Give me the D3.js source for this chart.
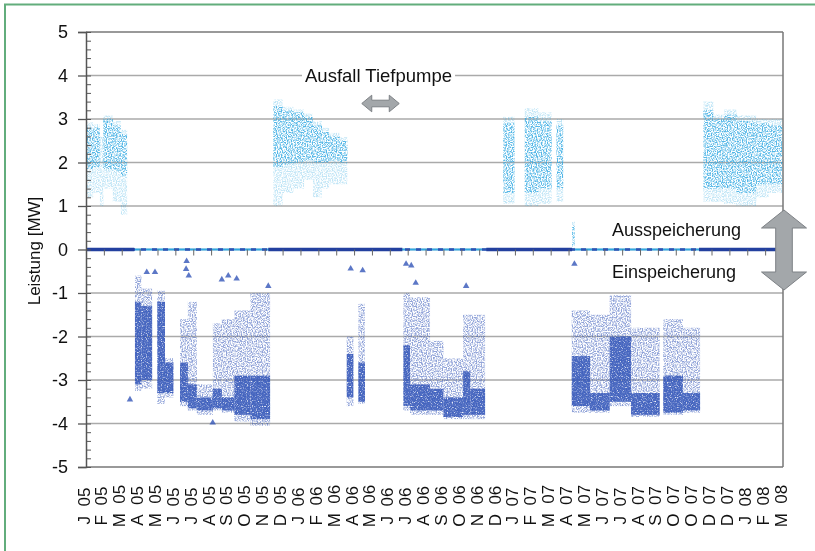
<!DOCTYPE html>
<html>
<head>
<meta charset="utf-8">
<script src="https://cdn.jsdelivr.net/npm/d3@7"></script>
<style>
  body { margin: 0; background: #fff; }
  svg text { font-family: "Liberation Sans", Arial, sans-serif; fill: #111; }
</style>
</head>
<body>
<div id="chart"></div>
<script>
// x tick labels, one per axis step (Excel date axis, so some letters repeat)
var tickLabels = ["J 05","F 05","M 05","A 05","M 05","J 05","J 05","A 05","S 05","O 05","N 05","D 05",
                  "J 06","F 06","M 06","A 06","M 06","J 06","J 06","A 06","S 06","O 06","N 06","D 06",
                  "J 07","F 07","M 07","A 07","M 07","J 07","J 07","A 07","S 07","O 07","O 07","D 07","D 07",
                  "J 08","F 08","M 08"];
var yTicks = [-5, -4, -3, -2, -1, 0, 1, 2, 3, 4, 5];

// Ausspeicherung (discharge, > 0): [from, to, lowest, core low, core high, highest], time in axis steps
var ausData = [
  [0.00, 0.40, 1.20, 1.85, 2.80, 2.92],
  [0.40, 0.78, 1.30, 1.90, 2.80, 2.88],
  [0.78, 0.97, 1.00, 1.60, 1.60, 2.60],
  [0.97, 1.50, 1.40, 1.85, 3.00, 3.08],
  [1.50, 1.95, 1.10, 1.80, 2.85, 2.95],
  [1.95, 2.30, 0.80, 1.70, 2.65, 2.75],
  [10.48, 11.00, 1.00, 1.90, 3.30, 3.45],
  [11.00, 11.60, 1.30, 1.95, 3.20, 3.28],
  [11.60, 12.20, 1.40, 2.00, 3.15, 3.22],
  [12.20, 12.70, 1.60, 2.05, 3.05, 3.12],
  [12.70, 13.20, 1.20, 2.00, 2.85, 2.95],
  [13.20, 13.60, 1.40, 2.00, 2.70, 2.80],
  [13.60, 14.20, 1.50, 2.05, 2.60, 2.68],
  [14.20, 14.62, 1.50, 2.00, 2.50, 2.58],
  [23.35, 23.98, 1.05, 1.30, 2.90, 3.05],
  [24.55, 25.30, 1.00, 1.30, 3.05, 3.25],
  [25.30, 26.05, 1.05, 1.40, 2.95, 3.15],
  [26.33, 26.70, 1.10, 1.40, 2.85, 3.00],
  [27.20, 27.35, 0.05, 0.10, 0.55, 0.65],
  [34.55, 35.10, 1.10, 1.40, 3.20, 3.40],
  [35.10, 35.70, 1.10, 1.40, 3.00, 3.10],
  [35.70, 36.40, 1.05, 1.40, 3.10, 3.22],
  [36.40, 37.50, 1.00, 1.30, 2.95, 3.08],
  [37.50, 38.20, 1.20, 1.50, 2.90, 3.00],
  [38.20, 38.95, 1.30, 1.50, 2.85, 3.00]
];

// Einspeicherung (charge, < 0): [from, to, lowest, core low, core high, highest]
var einData = [
  [2.74, 3.10, -3.25, -3.10, -1.20, -0.60],
  [3.10, 3.70, -3.20, -3.00, -1.30, -0.90],
  [3.99, 4.42, -3.55, -3.30, -1.20, -0.95],
  [4.42, 4.89, -3.40, -3.30, -2.60, -2.50],
  [5.26, 5.70, -3.60, -3.50, -2.60, -1.60],
  [5.70, 6.20, -3.70, -3.65, -3.10, -1.20],
  [6.20, 7.10, -3.80, -3.70, -3.40, -3.10],
  [7.10, 7.60, -3.70, -3.65, -3.20, -1.70],
  [7.60, 8.30, -3.75, -3.70, -3.40, -1.60],
  [8.30, 9.20, -3.95, -3.80, -2.90, -1.40],
  [9.20, 10.30, -4.05, -3.90, -2.90, -1.00],
  [14.59, 14.96, -3.60, -3.40, -2.40, -2.00],
  [15.24, 15.61, -3.55, -3.50, -2.60, -1.25],
  [17.76, 18.13, -3.70, -3.60, -2.20, -1.00],
  [18.13, 19.25, -3.80, -3.70, -3.10, -1.10],
  [19.25, 20.00, -3.80, -3.70, -3.20, -2.10],
  [20.00, 21.10, -3.90, -3.85, -3.40, -2.50],
  [21.10, 21.50, -3.90, -3.80, -2.80, -1.50],
  [21.50, 22.33, -3.90, -3.80, -3.20, -1.50],
  [27.18, 28.20, -3.75, -3.60, -2.45, -1.40],
  [28.20, 29.30, -3.75, -3.70, -3.30, -1.50],
  [29.30, 30.50, -3.60, -3.50, -2.00, -1.05],
  [30.50, 32.10, -3.85, -3.80, -3.30, -1.80],
  [32.30, 33.40, -3.80, -3.75, -2.90, -1.60],
  [33.40, 34.36, -3.75, -3.70, -3.30, -1.80]
];

// single charge points that stand apart: [time, MW]
var einSingles = [[2.46,-3.45],[3.40,-0.52],[3.86,-0.52],[5.63,-0.27],[5.60,-0.45],[5.75,-0.60],
                  [7.09,-3.98],[7.60,-0.69],[7.96,-0.60],[8.43,-0.67],[10.20,-0.84],[14.81,-0.44],
                  [15.48,-0.48],[17.91,-0.33],[18.20,-0.37],[18.45,-0.77],[21.27,-0.84],[27.33,-0.33]];

// stretches where the plant stands still and both series sit on 0
var idleSpans = [[0, 2.7], [10.2, 17.7], [22.4, 27.2], [34.3, 39]];

var width = 815, height = 551;
var svg = d3.select("#chart").append("svg")
    .attr("width", width).attr("height", height);

// grainy fill so the clouds read like scattered points
var defs = svg.append("defs");
function grain(id, seed, k, off) {
  var f = defs.append("filter").attr("id", id)
      .attr("x", 0).attr("y", 0).attr("width", 1).attr("height", 1);
  f.append("feTurbulence").attr("type", "fractalNoise").attr("baseFrequency", 0.8)
      .attr("numOctaves", 1).attr("seed", seed).attr("result", "n");
  f.append("feColorMatrix").attr("in", "n").attr("type", "matrix")
      .attr("values", "0 0 0 0 0  0 0 0 0 0  0 0 0 0 0  " + k + " 0 0 0 " + off).attr("result", "m");
  f.append("feComposite").attr("in", "SourceGraphic").attr("in2", "m").attr("operator", "in");
}
grain("speckle", 4, 4, -1.6);
grain("dense", 7, 4, -0.9);

// green frame
svg.append("path").attr("d", "M5,551V4.5H815")
    .attr("fill", "none").attr("stroke", "#62ad7c").attr("stroke-width", 2);

var x = d3.scaleLinear().domain([0, 39]).range([86, 783]);
var y = d3.scaleLinear().domain([-5, 5]).range([467, 32]);

// grid
svg.append("g").selectAll("line").data(yTicks).enter().append("line")
    .attr("x1", x(0)).attr("x2", x(39))
    .attr("y1", function(d) { return y(d); }).attr("y2", function(d) { return y(d); })
    .attr("stroke", function(d) { return Math.abs(d) == 5 ? "#777" : "#aaa"; })
    .attr("stroke-width", 1.5);
svg.append("line").attr("x1", x(39)).attr("x2", x(39)).attr("y1", y(5)).attr("y2", y(-5))
    .attr("stroke", "#777").attr("stroke-width", 1.5);

// discharge clouds
var aus = svg.append("g").attr("filter", "url(#speckle)");
aus.selectAll("rect.o").data(ausData).enter().append("rect")
    .attr("x", function(d) { return x(d[0]); })
    .attr("width", function(d) { return x(d[1]) - x(d[0]); })
    .attr("y", function(d) { return y(d[5]); })
    .attr("height", function(d) { return y(d[2]) - y(d[5]); })
    .attr("fill", "#2fa8e2").attr("opacity", 0.3);
aus.selectAll("rect.c").data(ausData).enter().append("rect")
    .attr("x", function(d) { return x(d[0]); })
    .attr("width", function(d) { return x(d[1]) - x(d[0]); })
    .attr("y", function(d) { return y(d[4]); })
    .attr("height", function(d) { return y(d[3]) - y(d[4]); })
    .attr("fill", "#2fa8e2").attr("opacity", 0.75);

// charge clouds
var ein = svg.append("g").attr("filter", "url(#speckle)");
ein.selectAll("rect").data(einData).enter().append("rect")
    .attr("x", function(d) { return x(d[0]); })
    .attr("width", function(d) { return x(d[1]) - x(d[0]); })
    .attr("y", function(d) { return y(d[5]); })
    .attr("height", function(d) { return y(d[2]) - y(d[5]); })
    .attr("fill", "#3355b8").attr("opacity", 0.55);
svg.append("g").attr("filter", "url(#dense)")
  .selectAll("rect").data(einData).enter().append("rect")
    .attr("x", function(d) { return x(d[0]); })
    .attr("width", function(d) { return x(d[1]) - x(d[0]); })
    .attr("y", function(d) { return y(d[4]); })
    .attr("height", function(d) { return y(d[3]) - y(d[4]); })
    .attr("fill", "#3355b8").attr("opacity", 0.85);

var tri = d3.symbol().type(d3.symbolTriangle).size(18);
svg.append("g").selectAll("path").data(einSingles).enter().append("path")
    .attr("d", tri)
    .attr("transform", function(d) { return "translate(" + x(d[0]) + "," + y(d[1]) + ")"; })
    .attr("fill", "#3355b8").attr("opacity", 0.8);

// zero line: light series everywhere, dark where idle
svg.append("line").attr("x1", x(0)).attr("x2", x(39)).attr("y1", y(0)).attr("y2", y(0))
    .attr("stroke", "#2fa8e2").attr("stroke-width", 2);
svg.append("line").attr("x1", x(0)).attr("x2", x(39)).attr("y1", y(0)).attr("y2", y(0))
    .attr("stroke", "#3152b3").attr("stroke-width", 2.5).attr("stroke-dasharray", "5,6");
svg.append("g").selectAll("line").data(idleSpans).enter().append("line")
    .attr("x1", function(d) { return x(d[0]); }).attr("x2", function(d) { return x(d[1]); })
    .attr("y1", y(0)).attr("y2", y(0))
    .attr("stroke", "#23409f").attr("stroke-width", 3.5);

// x ticks sit on the zero line
var xTickAxis = svg.append("g").attr("transform", "translate(0," + y(0) + ")")
    .call(d3.axisBottom(x).tickValues(d3.range(40)).tickSize(6).tickFormat(""));
xTickAxis.select(".domain").remove();
xTickAxis.selectAll("line").attr("stroke", "#666");

// y axis, plain hyphen for negatives as in the original
var yAxis = svg.append("g").attr("transform", "translate(" + x(0) + ",0)")
    .call(d3.axisLeft(y).tickValues(yTicks).tickSize(8).tickPadding(10)
      .tickFormat(function(d) { return String(d); }));
yAxis.select(".domain").attr("stroke", "#555").attr("stroke-width", 1.5);
yAxis.selectAll("line").attr("stroke", "#555").attr("stroke-width", 1.3);
yAxis.selectAll("text").style("font-size", "18px").attr("fill", "#111");
var yMinor = svg.append("g").attr("transform", "translate(" + x(0) + ",0)")
    .call(d3.axisRight(y).tickValues(d3.range(-5, 5.001, 0.2)).tickSize(5).tickFormat(""));
yMinor.select(".domain").remove();
yMinor.selectAll("line").attr("stroke", "#555");

svg.append("text")
    .attr("transform", "translate(40," + 251 + ") rotate(-90)")
    .attr("text-anchor", "middle").style("font-size", "17px")
    .text("Leistung [MW]");

// x labels along the bottom
svg.append("g").selectAll("text").data(tickLabels).enter().append("text")
    .attr("transform", function(d, i) { return "translate(" + (x(i) + 3.5) + ",506) rotate(-90)"; })
    .attr("text-anchor", "middle").style("font-size", "17px").attr("fill", "#000")
    .text(function(d) { return d.replace(" ", "\u00a0\u00a0"); });

// annotations
function label(txt, lx, ly, size) {
  var t = svg.append("text").attr("x", lx).attr("y", ly).style("font-size", size + "px").text(txt);
  var b = t.node().getBBox();
  svg.insert("rect", function() { return t.node(); })
     .attr("x", b.x - 3).attr("y", b.y).attr("width", b.width + 6).attr("height", b.height)
     .attr("fill", "#fff");
}
label("Ausfall Tiefpumpe", 305, 82, 18.5);
label("Ausspeicherung", 612, 236, 18);
label("Einspeicherung", 612, 278, 18);

function hArrow(cx, cy, len, hl, hh, sh) {
  var l = cx - len / 2, r = cx + len / 2;
  return "M" + l + "," + cy + "L" + (l + hl) + "," + (cy - hh) + "V" + (cy - sh) + "H" + (r - hl) +
         "V" + (cy - hh) + "L" + r + "," + cy + "L" + (r - hl) + "," + (cy + hh) + "V" + (cy + sh) +
         "H" + (l + hl) + "V" + (cy + hh) + "Z";
}
function vArrow(cx, cy, len, hl, hw, sw) {
  var t = cy - len / 2, b = cy + len / 2;
  return "M" + cx + "," + t + "L" + (cx + hw) + "," + (t + hl) + "H" + (cx + sw) + "V" + (b - hl) +
         "H" + (cx + hw) + "L" + cx + "," + b + "L" + (cx - hw) + "," + (b - hl) + "H" + (cx - sw) +
         "V" + (t + hl) + "H" + (cx - hw) + "Z";
}
svg.append("path").attr("d", hArrow(380.5, 103.5, 37.5, 10, 8.3, 3.3))
    .attr("fill", "#a3a7aa").attr("stroke", "#7d8185").attr("stroke-width", 1);
svg.append("path").attr("d", vArrow(784, 250, 80, 18, 22.5, 8.3))
    .attr("fill", "#a3a7aa").attr("stroke", "#7d8185").attr("stroke-width", 1);
</script>
</body>
</html>
